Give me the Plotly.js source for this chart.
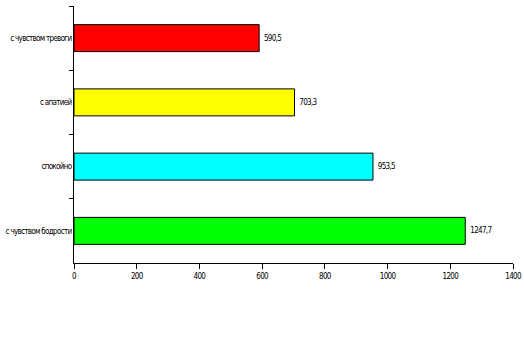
<!DOCTYPE html>
<html>
<head>
<meta charset="utf-8">
<script src="https://cdn.plot.ly/plotly-3.0.1.min.js"></script>
<style>
html,body{margin:0;padding:0;background:#fff;}
#chart{width:524px;height:342px;}
#chart text{letter-spacing:-0.7px;}
</style>
</head>
<body>
<div id="chart"></div>
<script>
var categories = ["с чувством тревоги", "с апатией", "спокойно", "с чувством бодрости"];
var values = [590.5, 703.3, 953.5, 1247.7];
var colors = ["#FF0000", "#FFFF00", "#00FFFF", "#00FF00"];
var xTicks = [0, 200, 400, 600, 800, 1000, 1200, 1400];

var font = {family: "DejaVu Sans Condensed, Liberation Sans Narrow, Arial Narrow, sans-serif", size: 8, color: "#000"};

var trace = {
  type: "bar",
  orientation: "h",
  y: categories,
  x: values,
  marker: {color: colors, line: {color: "#000", width: 1}},
  text: values.map(function(v){ return String(v).replace(".", ","); }),
  textposition: "outside",
  textfont: font,
  cliponaxis: false,
  hoverinfo: "none"
};

var layout = {
  width: 524, height: 342,
  margin: {l: 74, r: 11, t: 6, b: 79},
  paper_bgcolor: "#fff", plot_bgcolor: "#fff",
  separators: ", ",
  showlegend: false,
  bargap: 0.58,
  font: font,
  xaxis: {
    range: [0, 1400], tickvals: xTicks, ticktext: xTicks.map(String),
    showgrid: false, zeroline: false, showline: true, linecolor: "#000", linewidth: 1,
    ticks: "outside", ticklen: 5, tickcolor: "#000", tickfont: font
  },
  yaxis: {
    autorange: "reversed", showgrid: false, zeroline: false,
    showline: true, linecolor: "#000", linewidth: 1,
    ticks: "outside", ticklen: 4, tickcolor: "#000", tickson: "boundaries",
    tickfont: font
  }
};

Plotly.newPlot("chart", [trace], layout, {staticPlot: true});
</script>
</body>
</html>
